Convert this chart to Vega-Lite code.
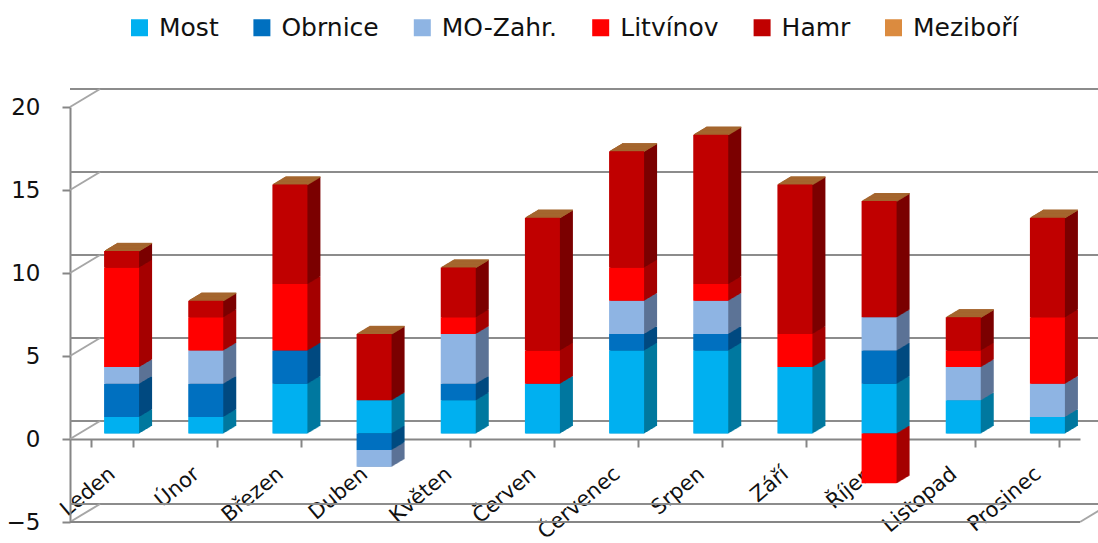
{"$schema":"https://vega.github.io/schema/vega-lite/v6.json","width":1010,"height":415,"autosize":"none","padding":{"left":70,"top":107,"right":18,"bottom":21},"background":"white",
"datasets":{
"levels":[{"level":-5},{"level":0},{"level":5},{"level":10},{"level":15},{"level":20}],
"diag":[{"a":0,"b":30,"l":-5,"l2":-3.916},{"a":0,"b":30,"l":0,"l2":1.084},{"a":0,"b":30,"l":5,"l2":6.084},{"a":0,"b":30,"l":10,"l2":11.084},{"a":0,"b":30,"l":15,"l2":16.084},{"a":0,"b":30,"l":20,"l2":21.084},{"a":1010,"b":1040,"l":-5,"l2":-3.916}],
"bars":[
{"m":"Leden","s":"Most","v":1},{"m":"Leden","s":"Obrnice","v":2},{"m":"Leden","s":"MO-Zahr.","v":1},{"m":"Leden","s":"Litvínov","v":6},{"m":"Leden","s":"Hamr","v":1},{"m":"Leden","s":"Meziboří","v":0},
{"m":"Únor","s":"Most","v":1},{"m":"Únor","s":"Obrnice","v":2},{"m":"Únor","s":"MO-Zahr.","v":2},{"m":"Únor","s":"Litvínov","v":2},{"m":"Únor","s":"Hamr","v":1},{"m":"Únor","s":"Meziboří","v":0},
{"m":"Březen","s":"Most","v":3},{"m":"Březen","s":"Obrnice","v":2},{"m":"Březen","s":"Litvínov","v":4},{"m":"Březen","s":"Hamr","v":6},{"m":"Březen","s":"Meziboří","v":0},
{"m":"Duben","s":"Most","v":2},{"m":"Duben","s":"Obrnice","v":-1},{"m":"Duben","s":"MO-Zahr.","v":-1},{"m":"Duben","s":"Hamr","v":4},{"m":"Duben","s":"Meziboří","v":0},
{"m":"Květen","s":"Most","v":2},{"m":"Květen","s":"Obrnice","v":1},{"m":"Květen","s":"MO-Zahr.","v":3},{"m":"Květen","s":"Litvínov","v":1},{"m":"Květen","s":"Hamr","v":3},{"m":"Květen","s":"Meziboří","v":0},
{"m":"Červen","s":"Most","v":3},{"m":"Červen","s":"Litvínov","v":2},{"m":"Červen","s":"Hamr","v":8},{"m":"Červen","s":"Meziboří","v":0},
{"m":"Červenec","s":"Most","v":5},{"m":"Červenec","s":"Obrnice","v":1},{"m":"Červenec","s":"MO-Zahr.","v":2},{"m":"Červenec","s":"Litvínov","v":2},{"m":"Červenec","s":"Hamr","v":7},{"m":"Červenec","s":"Meziboří","v":0},
{"m":"Srpen","s":"Most","v":5},{"m":"Srpen","s":"Obrnice","v":1},{"m":"Srpen","s":"MO-Zahr.","v":2},{"m":"Srpen","s":"Litvínov","v":1},{"m":"Srpen","s":"Hamr","v":9},{"m":"Srpen","s":"Meziboří","v":0},
{"m":"Září","s":"Most","v":4},{"m":"Září","s":"Litvínov","v":2},{"m":"Září","s":"Hamr","v":9},{"m":"Září","s":"Meziboří","v":0},
{"m":"Říjen","s":"Most","v":3},{"m":"Říjen","s":"Obrnice","v":2},{"m":"Říjen","s":"MO-Zahr.","v":2},{"m":"Říjen","s":"Litvínov","v":-3},{"m":"Říjen","s":"Hamr","v":7},{"m":"Říjen","s":"Meziboří","v":0},
{"m":"Listopad","s":"Most","v":2},{"m":"Listopad","s":"MO-Zahr.","v":2},{"m":"Listopad","s":"Litvínov","v":1},{"m":"Listopad","s":"Hamr","v":2},{"m":"Listopad","s":"Meziboří","v":0},
{"m":"Prosinec","s":"Most","v":1},{"m":"Prosinec","s":"MO-Zahr.","v":2},{"m":"Prosinec","s":"Litvínov","v":4},{"m":"Prosinec","s":"Hamr","v":6},{"m":"Prosinec","s":"Meziboří","v":0}
]},
"layer":[
{"data":{"name":"levels"},"mark":{"type":"rule","color":"#8c8c8c","strokeWidth":2,"xOffset":30,"yOffset":-18},"encoding":{"y":{"field":"level","type":"quantitative","scale":{"domain":[-5,20],"nice":false},"axis":{"title":null,"values":[-5,0,5,10,15,20]}}}},
{"data":{"name":"diag"},"mark":{"type":"rule","color":"#a6a6a6","strokeWidth":2},"encoding":{"x":{"field":"a","type":"quantitative","scale":{"domain":[0,1010],"nice":false,"zero":false},"axis":null},"x2":{"field":"b"},"y":{"field":"l","type":"quantitative","axis":{"title":null,"values":[-5,0,5,10,15,20]}},"y2":{"field":"l2"}}},
{"data":{"name":"levels"},"transform":[{"filter":"datum.level==-5"}],"mark":{"type":"rule","color":"#868686","strokeWidth":2},"encoding":{"y":{"field":"level","type":"quantitative","axis":{"title":null,"values":[-5,0,5,10,15,20]}}}},
{"data":{"name":"bars"},"transform":[{"stack":"v","groupby":["m"],"as":["y0","y1"]}],
"encoding":{
"x":{"field":"m","type":"nominal","sort":null,"scale":{"domain":["Leden","Únor","Březen","Duben","Květen","Červen","Červenec","Srpen","Září","Říjen","Listopad","Prosinec"],"paddingInner":0.5,"paddingOuter":0.25},"axis":{"title":null,"offset":-83,"tickBand":"extent","domainColor":"#868686","domainWidth":2,"tickColor":"#868686","tickWidth":2,"tickSize":8,"labelAngle":-40,"labelAlign":"right","labelBaseline":"middle","labelPadding":24,"labelFont":"DejaVu Sans","labelFontSize":21,"labelColor":"#111111","labelOverlap":false,"labelBound":false,"labelFlush":false}},
"y":{"field":"y0","type":"quantitative","scale":{"domain":[-5,20],"nice":false},"axis":{"title":null,"values":[-5,0,5,10,15,20]}},
"y2":{"field":"y1"},
"fill":{"field":"s","type":"nominal","legend":null,"scale":{"domain":["Most","Obrnice","MO-Zahr.","Litvínov","Hamr","Meziboří"],"range":["#00789f","#004a80","#5c7396","#a50000","#7b0000","#a5672f"]}},
"stroke":{"field":"s","type":"nominal","legend":null,"scale":{"domain":["Most","Obrnice","MO-Zahr.","Litvínov","Hamr","Meziboří"],"range":["transparent","transparent","transparent","transparent","transparent","#a5672f"]}}
},
"layer":[
{"mark":{"type":"bar","size":35,"xOffset":22.5,"yOffset":-13,"y2Offset":-13}},
{"mark":{"type":"bar","size":35,"xOffset":21.5,"yOffset":-12.4,"y2Offset":-12.4}},
{"mark":{"type":"bar","size":35,"xOffset":20.5,"yOffset":-11.8,"y2Offset":-11.8}},
{"mark":{"type":"bar","size":35,"xOffset":19.5,"yOffset":-11.2,"y2Offset":-11.2}},
{"mark":{"type":"bar","size":35,"xOffset":18.5,"yOffset":-10.6,"y2Offset":-10.6}},
{"mark":{"type":"bar","size":35,"xOffset":17.5,"yOffset":-10,"y2Offset":-10}},
{"mark":{"type":"bar","size":35,"xOffset":16.5,"yOffset":-9.4,"y2Offset":-9.4}},
{"mark":{"type":"bar","size":35,"xOffset":15.5,"yOffset":-8.8,"y2Offset":-8.8}},
{"mark":{"type":"bar","size":35,"xOffset":14.5,"yOffset":-8.2,"y2Offset":-8.2}},
{"mark":{"type":"bar","size":35,"xOffset":13.5,"yOffset":-7.6,"y2Offset":-7.6}},
{"mark":{"type":"bar","size":35,"xOffset":12.5,"yOffset":-7,"y2Offset":-7}},
{"mark":{"type":"bar","size":35,"xOffset":11.5,"yOffset":-6.4,"y2Offset":-6.4}},
{"mark":{"type":"bar","size":35,"xOffset":10.5,"yOffset":-5.8,"y2Offset":-5.8}}
]},
{"data":{"name":"bars"},"transform":[{"stack":"v","groupby":["m"],"as":["y0","y1"]}],"mark":{"type":"bar","size":35,"xOffset":9.5,"yOffset":-5.5,"y2Offset":-5.5},
"encoding":{
"x":{"field":"m","type":"nominal","sort":null,"scale":{"domain":["Leden","Únor","Březen","Duben","Květen","Červen","Červenec","Srpen","Září","Říjen","Listopad","Prosinec"],"paddingInner":0.5,"paddingOuter":0.25},"axis":null},
"y":{"field":"y0","type":"quantitative","axis":{"title":null,"values":[-5,0,5,10,15,20]}},
"y2":{"field":"y1"},
"color":{"field":"s","type":"nominal","scale":{"domain":["Most","Obrnice","MO-Zahr.","Litvínov","Hamr","Meziboří"],"range":["#00B0F0","#0070C0","#8EB4E3","#FF0000","#C00000","#DB8B3F"]},"legend":{"title":null,"orient":"none","legendX":57,"legendY":-92,"direction":"horizontal","columns":6,"columnPadding":30.4,"symbolType":"square","symbolSize":289,"labelOffset":7,"labelFont":"DejaVu Sans","labelFontSize":25,"labelColor":"#111111","labelLimit":300}}}}
],
"resolve":{"scale":{"x":"independent"},"legend":{"color":"independent"}},
"config":{"view":{"stroke":null},"axisY":{"grid":false,"domainColor":"#868686","domainWidth":2,"tickColor":"#868686","tickWidth":2,"tickSize":8,"labelPadding":22,"labelFont":"DejaVu Sans","labelFontSize":23,"labelColor":"#111111"}}}
